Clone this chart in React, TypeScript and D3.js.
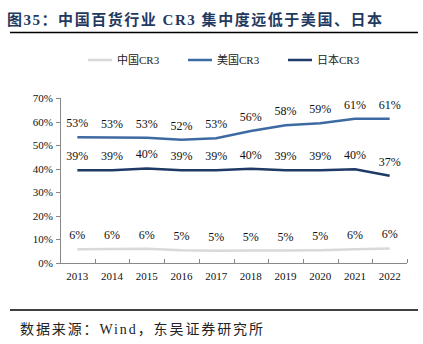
import React from "react";
import * as d3 from "d3";

const years = ["2013", "2014", "2015", "2016", "2017", "2018", "2019", "2020", "2021", "2022"];
const chinaCR3 = [5.8, 5.9, 6.0, 5.4, 5.2, 5.3, 5.3, 5.4, 5.8, 6.2];
const usCR3 = [53.4, 53.2, 53.1, 52.3, 52.9, 56.0, 58.4, 59.3, 61.2, 61.2];
const japanCR3 = [39.4, 39.3, 40.1, 39.4, 39.4, 40.0, 39.4, 39.4, 39.8, 37.0];
const yTicks = [0, 10, 20, 30, 40, 50, 60, 70];
const seriesNames = ["中国CR3", "美国CR3", "日本CR3"];
const seriesColors = ["#d9d9d9", "#3e6aa3", "#1f3a66"];

const W = 423;
const H = 344;
const serif = "'Liberation Serif', 'Times New Roman', 'DejaVu Serif', 'Noto Sans CJK SC', serif";

export default function App() {
  const x = d3.scaleBand<string>().domain(years).range([60, 407]);
  const y = d3.scaleLinear().domain([0, 70]).range([263, 98]);
  const line = d3
    .line<number>()
    .x((_, i) => (x(years[i]) as number) + x.bandwidth() / 2)
    .y((d) => y(d));
  const series = [chinaCR3, usCR3, japanCR3];
  const legendX = [88, 188, 288];
  const boundaries = years.map((yr) => x(yr) as number).concat([407]);
  const ts = { fontFamily: serif };

  return (
    <svg
      width={W}
      height={H}
      style={{ position: "absolute", left: 0, top: 0, background: "#fff", fontFamily: serif }}
    >
      <rect width={W} height={H} fill="#fff" />
      <text x={7} y={25} fontSize={15} fontWeight="bold" fill="#1f3a60" style={ts} textLength={375} lengthAdjust="spacing">
        图35：中国百货行业 CR3 集中度远低于美国、日本
      </text>
      <line x1={10} x2={418} y1={32.5} y2={32.5} stroke="#000" strokeWidth={1.5} />

      {seriesNames.map((n, i) => (
        <g key={n}>
          <line x1={legendX[i]} x2={legendX[i] + 24} y1={60} y2={60} stroke={seriesColors[i]} strokeWidth={2.5} />
          <text x={legendX[i] + 29} y={64} fontSize={11} fill="#222" style={ts}>
            {n}
          </text>
        </g>
      ))}

      {/* y axis */}
      <line x1={60.5} x2={60.5} y1={y(70)} y2={y(0)} stroke="#888" strokeWidth={1} />
      {yTicks.map((t) => (
        <g key={t}>
          <line x1={56} x2={60.5} y1={Math.round(y(t)) + 0.5} y2={Math.round(y(t)) + 0.5} stroke="#888" />
          <text x={53} y={y(t) + 4} fontSize={11} textAnchor="end" fill="#111" style={ts}>
            {t}%
          </text>
        </g>
      ))}
      {/* x axis */}
      <line x1={60} x2={407} y1={Math.round(y(0)) + 0.5} y2={Math.round(y(0)) + 0.5} stroke="#888" />
      {boundaries.slice(1).map((b, i) => (
        <line key={i} x1={Math.round(b) + 0.5} x2={Math.round(b) + 0.5} y1={y(0)} y2={y(0) - 4} stroke="#888" />
      ))}
      {years.map((yr) => (
        <text key={yr} x={(x(yr) as number) + x.bandwidth() / 2} y={280} fontSize={11} textAnchor="middle" fill="#111" style={ts}>
          {yr}
        </text>
      ))}

      {series.map((s, si) => (
        <g key={si}>
          <path d={line(s) || ""} fill="none" stroke={seriesColors[si]} strokeWidth={2.5} />
          {s.map((v, i) => (
            <text
              key={i}
              x={(x(years[i]) as number) + x.bandwidth() / 2}
              y={y(v) - 10}
              fontSize={12}
              textAnchor="middle"
              fill="#111"
              style={ts}
            >
              {Math.round(v)}%
            </text>
          ))}
        </g>
      ))}

      <line x1={10} x2={418} y1={310} y2={310} stroke="#000" strokeWidth={1.5} />
      <text x={20} y={334} fontSize={14} fill="#222" style={ts} textLength={243} lengthAdjust="spacing">
        数据来源：Wind，东吴证券研究所
      </text>
    </svg>
  );
}
